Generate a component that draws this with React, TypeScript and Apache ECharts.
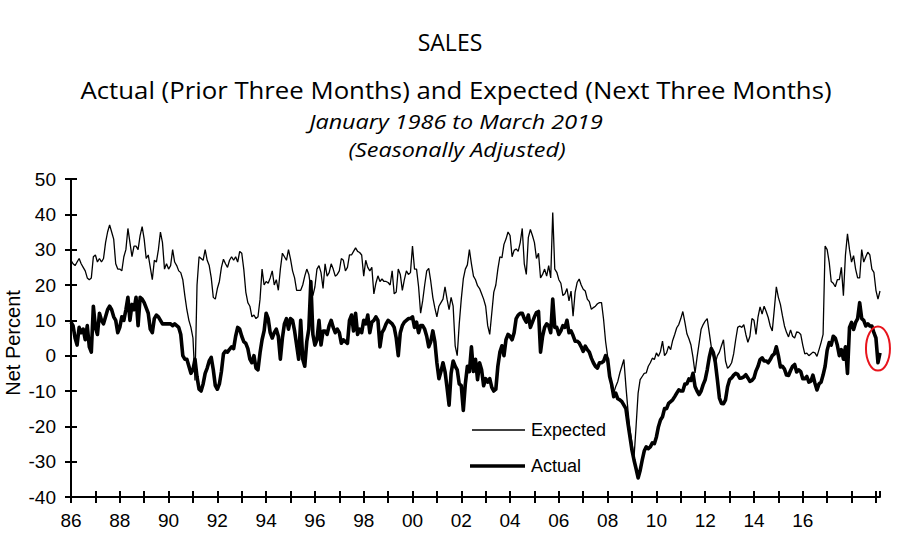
import React, { useEffect, useRef } from "react";
import * as echarts from "echarts";

// Monthly values, January 1986 .. March 2019 (399 months)
const EXPECTED: number[] = [
  // 1986
  27, 26, 25.5, 26.5, 27.5, 26, 25, 24, 22, 21.5, 22, 28,
  // 1987
  28.5, 26.5, 27.5, 26.5, 27.5, 32, 35, 37, 35, 33, 26, 24.5,
  // 1988
  24.5, 24, 28, 30, 36, 32, 28, 31, 31, 30, 34, 36.5,
  // 1989
  33, 27.5, 28.5, 25, 21.5, 27, 26.5, 30, 35, 32, 24.5, 26,
  // 1990
  24.5, 25.5, 30, 26.5, 25.5, 24, 23.5, 21.5, 17, 13, 10, 8,
  // 1991
  5, -7, 20, 28, 27.5, 27, 30, 27, 25.5, 22, 16.5, 16,
  // 1992
  19, 21, 25, 27.3, 26, 25, 27, 28, 27, 28, 26.5, 29.5,
  // 1993
  29, 24.5, 18, 15, 14, 11, 11.5, 10.5, 11, 16, 24.5, 20,
  // 1994
  21, 20.5, 22, 24, 20, 21.5, 18.5, 24.5, 29, 28, 27, 30,
  // 1995
  27.3, 24, 22, 18.5, 18.5, 18.5, 20, 22.5, 24.5, 23, 19, 17,
  // 1996
  19.5, 24.5, 25.5, 23.5, 19, 26, 22.5, 23.5, 26, 24.5, 22.5, 23,
  // 1997
  24, 27.5, 27, 24, 25, 28.5, 28.5, 29.5, 30.5, 29.5, 29.2, 28.5,
  // 1998
  22.5, 27, 25, 24, 25, 17.5, 20.5, 22.6, 21, 21.7, 21, 21,
  // 1999
  20.7, 20, 24, 17.5, 18, 24.5, 23, 18.5, 21.5, 24, 23, 23.5,
  // 2000
  31, 24.5, 24.5, 19.5, 12, 15.5, 20, 24, 24.7, 21, 16.5, 13.5,
  // 2001
  11, 14, 15, 16, 19.5, 16, 13, 16.5, 14, 2.8, 0, 9,
  // 2002
  16, 21.7, 24.5, 25.7, 30, 26, 22.5, 21.5, 19.8, 19, 17.5, 16,
  // 2003
  14, 8.5, 6, 12, 18, 20, 24.5, 28, 27.7, 31.5, 33, 35,
  // 2004
  34, 28, 29.8, 30.2, 29.5, 32, 36, 26, 23, 33.5, 35.7, 34,
  // 2005
  32, 27.5, 29, 22, 23, 24.5, 22.5, 25.5, 22, 40.5, 24.5, 23.6,
  // 2006
  21.5, 20.5, 17, 17.5, 19, 15.5, 18.3, 11.2, 17.9, 20.7, 21.7, 20,
  // 2007
  18.8, 18.3, 16, 15.3, 13.1, 13.6, 14, 14.7, 15, 15, 10.3, 4,
  // 2008
  -0.2, -4.9, -9.7, -10.6, -8.7, -7.3, -4.9, -3, -1.1, -8.7, -15.4, -21,
  // 2009
  -24.9, -28.7, -20, -10.6, -6.8, -5.9, -5, -4.9, -3, -2, -0.7, -1.1,
  // 2010
  0.8, -0.2, 1.2, 4.1, 0, 0.8, 2.7, 1.7, 4.3, 6, 7.9, 8.8,
  // 2011
  10.5, 12.5, 9.5, 6.2, 4.8, 3, -0.5, -4.9, -0.5, 3.5, 7.5, 8.8,
  // 2012
  9.8, 10.5, 6.5, 2.5, 0, -2, 0, 1, 2.8, 4.5, -1.5, -3.6,
  // 2013
  -3, -2, 0.5, 4.5, 8, 8.4, 8, 8.8, 6, 3.8, 5.5, 10.5,
  // 2014
  10, 6, 11, 13.8, 11.8, 14, 12.5, 10.8, 8.4, 7, 13.1, 19.5,
  // 2015
  16.5, 14.5, 11.3, 8.4, 6.6, 5.3, 7.3, 5.5, 5, 6.7, 6.6, 6,
  // 2016
  3, 0.5, 0.7, 0, 0.5, 1, 0.8, -0.2, 1.7, 3.7, 6, 31,
  // 2017
  30, 26.5, 21, 20.5, 19.5, 21.5, 21.5, 25, 17, 28.5, 34.5, 30,
  // 2018
  26.5, 28.3, 24.5, 22, 22, 30, 26.5, 28, 29.3, 28.5, 24.5, 23.6,
  // 2019
  18.5, 16, 18.3,
];

const ACTUAL: number[] = [
  // 1986
  9.5, 8.5, 5, 3, 8, 6.5, 7.5, 4.5, 8.5, 2.5, 1, 14,
  // 1987
  8, 6, 12, 10, 9, 11, 13, 14, 13, 11, 10, 6.5,
  // 1988
  8, 11, 10, 13, 16.5, 10, 14.5, 13, 16.5, 8.5, 16.5, 16,
  // 1989
  15, 13.5, 12, 7.5, 6.5, 10.5, 11.5, 11, 10, 9, 9, 9,
  // 1990
  9, 9, 8.5, 9, 8.5, 8, 6, 0, -1, -1, -3, -5,
  // 1991
  -4, -1, -6, -9.5, -10, -8, -5, -3.5, -1.5, -0.5, -4, -8.5,
  // 1992
  -9.5, -8, -4.5, 0.5, 1.3, 1, 1.8, 2.5, 2, 5.5, 8, 7.5,
  // 1993
  5.5, 4, 3.5, 2, -1, -2, 0, -3.5, -4, 0.8, 4.5, 7,
  // 1994
  12, 10.5, 6.5, 5, 6.5, 7.5, 5.5, -1, 5, 9, 10.5, 7.5,
  // 1995
  10.5, 10, 7, 3, -1, 10, -1, -3, 4, 7.5, 21, 6,
  // 1996
  3, 4.5, 10, 3, 7, 7, 6, 8.5, 10, 8, 6.5, 7.5,
  // 1997
  6.5, 3.5, 4.5, 4, 3.5, 10, 11.5, 7, 12, 6, 7.5, 6.5,
  // 1998
  10, 9, 11.5, 6.5, 9.5, 10, 11, 10, 2.5, 6.5, 7.5, 9,
  // 1999
  10, 9.5, 9, 8, 5, 0, 6.5, 8.5, 9.5, 10, 10.5, 10.5,
  // 2000
  11, 8, 9.5, 6.5, 8.5, 8.5, 7.5, 5.5, 2.5, 4, 7, 4,
  // 2001
  -2, -6.5, -4.5, -2, -4.5, -9, -14, -5, -1.5, -3, -4, -8,
  // 2002
  -8.5, -15.5, -8, -3, -4.5, 2.5, -4.5, -1, -6.8, -2, -4, -8.5,
  // 2003
  -6.5, -7.5, -6.5, -9, -10, -9.5, -3, 1, 2.8, 0, 4.5, 6,
  // 2004
  5.5, 4.5, 6.5, 10.5, 11.5, 12, 12, 10.5, 9.5, 11.5, 8, 9.5,
  // 2005
  11, 12.2, 12.5, 1, 5.5, 8, 9, 8.5, 6.5, 16, 8, 8,
  // 2006
  6, 7, 8.5, 8, 10, 6.5, 7, 5.7, 4.1, 4.1, 3.6, 2.5,
  // 2007
  1.2, 2.7, 1.7, 1, -0.7, -2, -3, -3.5, -2, -2, -1.6, 0,
  // 2008
  -1, -5.9, -8.2, -11.6, -10.6, -12.2, -12.5, -13, -14, -15, -19.2, -23,
  // 2009
  -26.8, -29.6, -32, -34.6, -32.5, -29.6, -27, -25.8, -26.3, -25.8, -24.7, -24.9,
  // 2010
  -23, -20.1, -18.2, -17.3, -15, -15, -13.5, -13, -12.5, -11.6, -10.6, -9.7,
  // 2011
  -10, -10, -8, -8, -6.6, -7, -5, -8.7, -10, -11, -10, -8.2,
  // 2012
  -6.8, -4, -0.5, 2, 0.9, -2, -6.8, -12, -13.5, -13.6, -12.5, -8.8,
  // 2013
  -6.8, -6.3, -5.5, -5, -5.3, -6.4, -6.3, -6, -5.4, -6.3, -7.3, -7,
  // 2014
  -6.3, -4.3, -3, -1.1, -0.6, -1.5, -1.5, -2, -1.1, 0, 0.5, 2.5,
  // 2015
  0, -3.2, -3, -3.8, -5.5, -5.6, -4.2, -3, -2.5, -4.6, -4, -4.5,
  // 2016
  -6.5, -6.5, -5.9, -7.5, -7.2, -5.5, -7.8, -9.7, -8, -7.5, -5.5, -3,
  // 2017
  1.5, 3.7, 3, 5.5, 5, 3, 0, 1.7, -1, 2.5, -5, 8,
  // 2018
  9.4, 7.4, 9.4, 10.5, 15, 10.5, 10, 8.4, 9, 8.4, 8.4, 6.5,
  // 2019
  5, -2, 0.8,
];

// labels shown every 24 months starting January 1986
const YEAR_LABELS = ["86", "88", "90", "92", "94", "96", "98", "00", "02", "04", "06", "08", "10", "12", "14", "16"];
const Y_MIN = -40;
const Y_MAX = 50;
const Y_STEP = 10;
const LAST_MONTH = EXPECTED.length - 1;

const TITLE_FONT = '"Open Sans", "Noto Sans", sans-serif';
const AXIS_FONT = '"Liberation Sans", Arial, sans-serif';

export default function App() {
  const ref = useRef<HTMLDivElement>(null);

  useEffect(() => {
    if (!ref.current) return;
    const chart = echarts.init(ref.current, null, { renderer: "svg" });

    const expData = EXPECTED.map((v, i) => [i, v]);
    const actData = ACTUAL.map((v, i) => [i, v]);

    const baseX = {
      type: "value",
      min: 0,
      max: LAST_MONTH,
      interval: 12,
      splitLine: { show: false },
    };
    const baseY = {
      type: "value",
      min: Y_MIN,
      max: Y_MAX,
      interval: Y_STEP,
      splitLine: { show: false },
    };

    const titleText = (text: string, x: number, y: number, font: string, scaleX: number) => ({
      type: "text",
      x,
      y,
      scaleX,
      style: { text, textAlign: "center", textVerticalAlign: "middle", font, fill: "#000" },
    });

    const option: any = {
      animation: false,
      backgroundColor: "#fff",
      grid: { left: 71, right: 20, top: 179, bottom: 53, containLabel: false, outerBoundsMode: "none" },
      xAxis: [
        {
          ...baseX,
          position: "bottom",
          axisLine: { show: true, onZero: false, lineStyle: { color: "#000", width: 2 } },
          axisTick: { show: true, inside: false, length: 6, lineStyle: { color: "#000", width: 2 } },
          axisLabel: {
            show: true,
            color: "#000",
            fontSize: 19,
            fontFamily: AXIS_FONT,
            margin: 14,
            showMaxLabel: false,
            formatter: (v: number) => {
              const k = v / 24;
              return Number.isInteger(k) && k < YEAR_LABELS.length ? YEAR_LABELS[k] : "";
            },
          },
        },
        {
          ...baseX,
          position: "bottom",
          axisLine: { show: false, onZero: false },
          axisTick: { show: true, inside: true, length: 6, lineStyle: { color: "#000", width: 2 } },
          axisLabel: { show: false },
        },
      ],
      yAxis: [
        {
          ...baseY,
          position: "left",
          axisLine: { show: true, onZero: false, lineStyle: { color: "#000", width: 2 } },
          axisTick: { show: true, inside: false, length: 6, lineStyle: { color: "#000", width: 2 } },
          axisLabel: { color: "#000", fontSize: 19, fontFamily: AXIS_FONT, margin: 15 },
        },
        {
          ...baseY,
          position: "left",
          axisLine: { show: false, onZero: false },
          axisTick: { show: true, inside: true, length: 6, lineStyle: { color: "#000", width: 2 } },
          axisLabel: { show: false },
        },
      ],
      series: [
        {
          name: "Expected",
          type: "line",
          xAxisIndex: 0,
          yAxisIndex: 0,
          data: expData,
          symbol: "none",
          lineStyle: { color: "#000", width: 1.3 },
          z: 3,
        },
        {
          name: "Actual",
          type: "line",
          xAxisIndex: 0,
          yAxisIndex: 0,
          data: actData,
          symbol: "none",
          lineStyle: { color: "#000", width: 3.6, join: "round" },
          z: 4,
        },
      ],
      graphic: [
        titleText("SALES", 450, 42, `23px ${TITLE_FONT}`, 1),
        titleText("Actual (Prior Three Months) and Expected (Next Three Months)", 456, 90, `23px ${TITLE_FONT}`, 1.12),
        titleText("January 1986 to March 2019", 456, 121, `italic 20.5px ${TITLE_FONT}`, 1.14),
        titleText("(Seasonally Adjusted)", 457, 149.5, `italic 20.5px ${TITLE_FONT}`, 1.14),
        // y-axis title
        {
          type: "text",
          x: 13,
          y: 343,
          rotation: Math.PI / 2,
          style: { text: "Net Percent", textAlign: "center", textVerticalAlign: "middle", font: `20px ${AXIS_FONT}`, fill: "#000" },
        },
        // legend
        { type: "line", shape: { x1: 472, y1: 430, x2: 525, y2: 430 }, style: { stroke: "#000", lineWidth: 1.3 } },
        {
          type: "text",
          x: 531,
          y: 430,
          style: { text: "Expected", textVerticalAlign: "middle", font: `18px ${AXIS_FONT}`, fill: "#000" },
        },
        { type: "line", shape: { x1: 470, y1: 466, x2: 525, y2: 466 }, style: { stroke: "#000", lineWidth: 3.6 } },
        {
          type: "text",
          x: 531,
          y: 466,
          style: { text: "Actual", textVerticalAlign: "middle", font: `18px ${AXIS_FONT}`, fill: "#000" },
        },
      ],
    };

    chart.setOption(option);

    // red highlight around the latest readings
    const c = chart.convertToPixel({ xAxisIndex: 0, yAxisIndex: 0 }, [LAST_MONTH - 1, 2]) as number[];
    if (c) {
      const g = (option.graphic as any[]).concat([
        {
          type: "ellipse",
          shape: { cx: c[0], cy: c[1], rx: 12, ry: 22 },
          style: { fill: "none", stroke: "#e8141c", lineWidth: 2 },
          z: 10,
        },
      ]);
      chart.setOption({ graphic: g }, { replaceMerge: ["graphic"] });
    }

    return () => chart.dispose();
  }, []);

  return (
    <div
      ref={ref}
      style={{ position: "absolute", left: 0, top: 0, width: 900, height: 550, background: "#fff" }}
    />
  );
}
